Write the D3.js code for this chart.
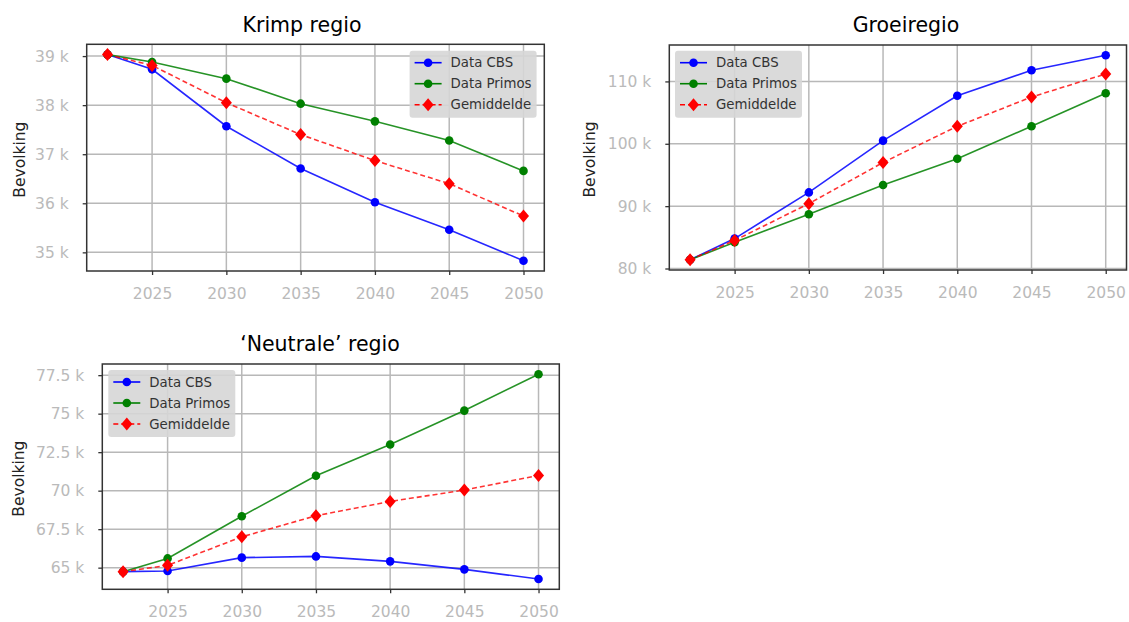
<!DOCTYPE html>
<html>
<head>
<meta charset="utf-8">
<script src="https://cdn.jsdelivr.net/npm/d3@7"></script>
<style>
  html, body { margin: 0; padding: 0; background: #fff; }
  svg { display: block; }
  text { font-family: "DejaVu Sans", sans-serif; }
</style>
</head>
<body>
<svg id="chart" width="1129" height="622"></svg>
<script>
// ---- Data (population, thousands) ----
const years = [2022, 2025, 2030, 2035, 2040, 2045, 2050];
const xTicks = [2025, 2030, 2035, 2040, 2045, 2050];
const seriesNames = ["Data CBS", "Data Primos", "Gemiddelde"];

const krimpCBS    = [39.03, 38.73, 37.57, 36.71, 36.02, 35.46, 34.83];
const krimpPrimos = [39.03, 38.88, 38.54, 38.03, 37.67, 37.28, 36.66];
const krimpGem    = [39.03, 38.81, 38.05, 37.40, 36.87, 36.40, 35.74];
const krimpTicks  = [35, 36, 37, 38, 39];

const groeiCBS    = [81.4, 84.8, 92.2, 100.5, 107.7, 111.8, 114.2];
const groeiPrimos = [81.4, 84.2, 88.7, 93.4, 97.6, 102.8, 108.1];
const groeiGem    = [81.4, 84.5, 90.4, 97.0, 102.8, 107.5, 111.2];
const groeiTicks  = [80, 90, 100, 110];

const neutCBS     = [64.74, 64.78, 65.65, 65.73, 65.41, 64.89, 64.26];
const neutPrimos  = [64.74, 65.60, 68.34, 70.97, 73.00, 75.20, 77.56];
const neutGem     = [64.74, 65.15, 67.00, 68.37, 69.30, 70.04, 70.99];
const neutTicks   = [65, 67.5, 70, 72.5, 75, 77.5];

// ---- Panel layout ----
const panels = [
  { title: "Krimp regio", series: [krimpCBS, krimpPrimos, krimpGem], yTicks: krimpTicks,
    left: 86.7, top: 44.3, w: 457.6, h: 226.7, titleX: 302, titleY: 31.5, ylabX: 20, legX: 409.6, legY: 50.7 },
  { title: "Groeiregio", series: [groeiCBS, groeiPrimos, groeiGem], yTicks: groeiTicks,
    left: 669.3, top: 45, w: 457.2, h: 225, titleX: 906, titleY: 31.5, ylabX: 590, legX: 675, legY: 50.7 },
  { title: "\u2018Neutrale\u2019 regio", series: [neutCBS, neutPrimos, neutGem], yTicks: neutTicks,
    left: 102.3, top: 364, w: 457, h: 225.3, titleX: 320, titleY: 350.5, ylabX: 18.5, legX: 108.3, legY: 370 }
];

const colors = ["#0000ff", "#008000", "#ff0000"];
const svg = d3.select("#chart");

function diamond(g, x, y, r, fill) {
  g.append("path")
    .attr("d", `M${x},${y - r}L${x + r * 0.85},${y}L${x},${y + r}L${x - r * 0.85},${y}Z`)
    .attr("fill", fill);
}

panels.forEach(p => {
  const all = p.series.flat();
  const lo = d3.min(all), hi = d3.max(all), pad = (hi - lo) * 0.05;
  const xPad = (d3.max(years) - d3.min(years)) * 0.05;
  const x = d3.scaleLinear().domain([d3.min(years) - xPad, d3.max(years) + xPad]).range([0, p.w]);
  const y = d3.scaleLinear().domain([lo - pad, hi + pad]).range([p.h, 0]);

  const g = svg.append("g").attr("transform", `translate(${p.left},${p.top})`);

  // grid
  g.append("g").selectAll("line.vx").data(xTicks).join("line")
    .attr("x1", d => x(d)).attr("x2", d => x(d)).attr("y1", 0).attr("y2", p.h)
    .attr("stroke", "#b8b8b8").attr("stroke-width", 1.5);
  g.append("g").selectAll("line.hy").data(p.yTicks).join("line")
    .attr("x1", 0).attr("x2", p.w).attr("y1", d => y(d)).attr("y2", d => y(d))
    .attr("stroke", "#b8b8b8").attr("stroke-width", 1.5);

  // axes
  const xa = g.append("g").attr("transform", `translate(0,${p.h})`)
    .call(d3.axisBottom(x).tickValues(xTicks).tickFormat(d3.format("d")).tickSize(4).tickPadding(13));
  const ya = g.append("g")
    .call(d3.axisLeft(y).tickValues(p.yTicks).tickFormat(d => d3.format("~g")(d) + " k").tickSize(4).tickPadding(14));
  [xa, ya].forEach(a => {
    a.select(".domain").remove();
    a.selectAll(".tick line").attr("stroke", "#333").attr("stroke-width", 1.3);
    a.selectAll(".tick text").attr("fill", "#bababa").attr("font-size", 15.5)
      .attr("font-family", "DejaVu Sans, sans-serif");
  });

  // lines
  const marks = g.append("g");
  p.series.forEach((vals, i) => {
    const pts = years.map((yr, k) => [yr, vals[k]]);
    const line = d3.line().x(d => x(d[0])).y(d => y(d[1]));
    marks.append("path").attr("d", line(pts)).attr("fill", "none")
      .attr("stroke", colors[i]).attr("stroke-width", 1.6)
      .attr("stroke-opacity", i === 2 ? 0.8 : 0.85)
      .attr("stroke-dasharray", i === 2 ? "5,3" : null);
    pts.forEach(d => {
      if (i === 2) diamond(marks, x(d[0]), y(d[1]), 6.5, colors[i]);
      else marks.append("circle").attr("cx", x(d[0])).attr("cy", y(d[1])).attr("r", 4.3).attr("fill", colors[i]);
    });
  });

  // frame
  g.append("rect").attr("x", 0).attr("y", 0).attr("width", p.w).attr("height", p.h)
    .attr("fill", "none").attr("stroke", "#333").attr("stroke-width", 1.5);

  // title
  svg.append("text").attr("x", p.titleX).attr("y", p.titleY).attr("text-anchor", "middle")
    .attr("font-size", 20.5).attr("fill", "#000").text(p.title);

  // y label
  svg.append("text")
    .attr("transform", `translate(${p.ylabX},${p.top + p.h / 2 + 2}) rotate(-90)`)
    .attr("text-anchor", "middle").attr("dominant-baseline", "central")
    .attr("font-size", 15.5).attr("fill", "#222").text("Bevolking");

  // legend
  const lg = svg.append("g").attr("transform", `translate(${p.legX},${p.legY})`);
  lg.append("rect").attr("width", 127).attr("height", 67).attr("rx", 3)
    .attr("fill", "#d6d6d6").attr("fill-opacity", 0.9);
  seriesNames.forEach((name, i) => {
    const ry = 12 + i * 21;
    lg.append("line").attr("x1", 5).attr("x2", 32).attr("y1", ry).attr("y2", ry)
      .attr("stroke", colors[i]).attr("stroke-width", 1.6)
      .attr("stroke-dasharray", i === 2 ? "5,3" : null);
    if (i === 2) diamond(lg, 18.5, ry, 6.5, colors[i]);
    else lg.append("circle").attr("cx", 18.5).attr("cy", ry).attr("r", 4.3).attr("fill", colors[i]);
    lg.append("text").attr("x", 41).attr("y", ry).attr("dominant-baseline", "central")
      .attr("font-size", 13.3).attr("fill", "#333").text(name);
  });
});
</script>
</body>
</html>
